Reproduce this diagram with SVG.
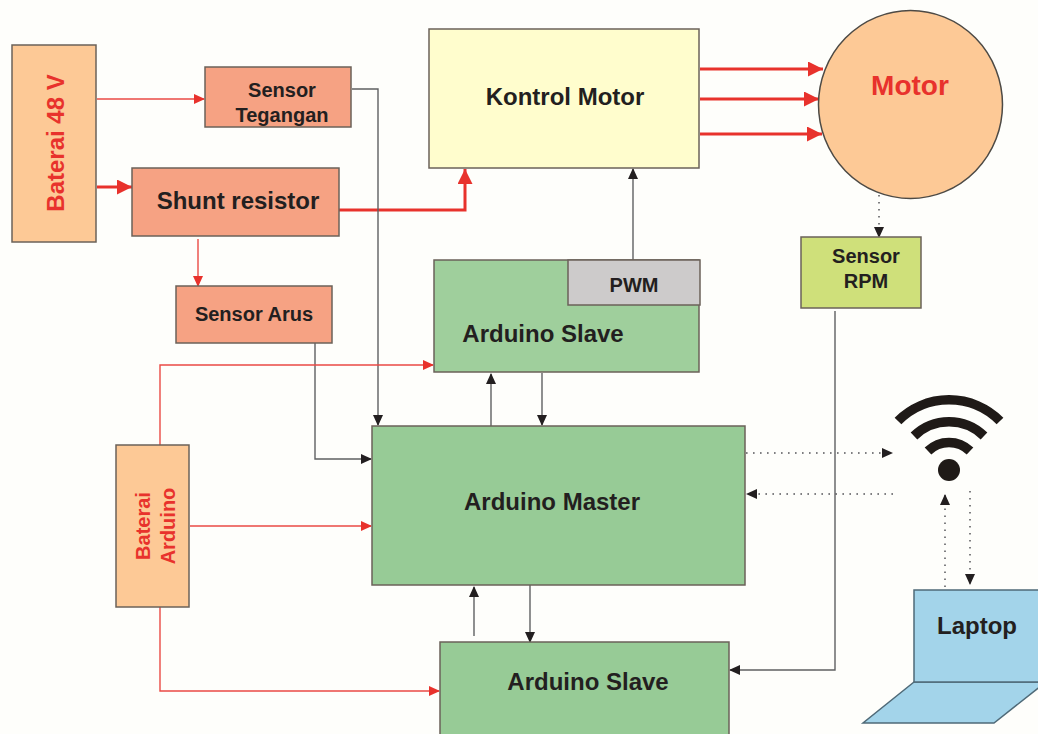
<svg xmlns="http://www.w3.org/2000/svg" width="1038" height="734" viewBox="0 0 1038 734">
<style>
.box{stroke:#6b6259;stroke-width:1.5}
.t{font-family:"Liberation Sans",Arial,sans-serif;font-weight:700;fill:#231f20;text-anchor:middle}
.r{fill:#e8322c}
.c{fill:none}
.k{stroke:#5f6062;stroke-width:1.4}
.red{stroke:#ea4a45;stroke-width:1.4}
.redb{stroke:#e8322c;stroke-width:3}
.d{stroke:#55565a;stroke-width:1.5;stroke-dasharray:1.6 5.4}
</style>
<defs>
<marker id="ak" markerUnits="userSpaceOnUse" markerWidth="12" markerHeight="12" refX="10" refY="5" orient="auto"><path d="M0 0L11 5L0 10Z" fill="#231f20"/></marker>
<marker id="ar" markerUnits="userSpaceOnUse" markerWidth="12" markerHeight="12" refX="10" refY="5" orient="auto"><path d="M0 0L11 5L0 10Z" fill="#e8322c"/></marker>
<marker id="arb" markerUnits="userSpaceOnUse" markerWidth="16" markerHeight="16" refX="15" refY="7.5" orient="auto"><path d="M0 0L15 7.500L0 15Z" fill="#e8322c"/></marker>
</defs>
<rect width="1038" height="734" fill="#fefefb"/>
<g id="connectors">
<path class="c red" d="M97 99H204" marker-end="url(#ar)"/>
<path class="c redb" d="M97 187H132" marker-end="url(#arb)"/>
<path class="c red" d="M198 239V286" marker-end="url(#ar)"/>
<path class="c redb" d="M339 210H465V169" marker-end="url(#arb)"/>
<path class="c redb" d="M700 69H823" marker-end="url(#arb)"/>
<path class="c redb" d="M700 99H819" marker-end="url(#arb)"/>
<path class="c redb" d="M700 134H822" marker-end="url(#arb)"/>
<path class="c k" d="M352 89H378V425" marker-end="url(#ak)"/>
<path class="c k" d="M315 343V459H371" marker-end="url(#ak)"/>
<path class="c k" d="M633 260V169" marker-end="url(#ak)"/>
<path class="c k" d="M491 426V374" marker-end="url(#ak)"/>
<path class="c k" d="M542 373V425" marker-end="url(#ak)"/>
<path class="c k" d="M474 636V587" marker-end="url(#ak)"/>
<path class="c k" d="M530 579V642" marker-end="url(#ak)"/>
<path class="c k" d="M835 311V670H730" marker-end="url(#ak)"/>
<path class="c red" d="M160 445V365H433" marker-end="url(#ar)"/>
<path class="c red" d="M190 526H371" marker-end="url(#ar)"/>
<path class="c red" d="M160 607V691H439" marker-end="url(#ar)"/>
<path class="c d" d="M746 453H892" marker-end="url(#ak)"/>
<path class="c d" d="M893 494H747" marker-end="url(#ak)"/>
<path class="c d" d="M945 587V495" marker-end="url(#ak)"/>
<path class="c d" d="M970 491V584" marker-end="url(#ak)"/>
<path class="c d" d="M879 195V237" marker-end="url(#ak)"/>
</g>
<g id="baterai48"><rect class="box" x="12" y="45" width="84" height="197" fill="#fdc996"/><text class="t r" font-size="24" transform="translate(64 143) rotate(-90)" style="fill:#e8322c">Baterai 48 V</text></g>
<g id="sensor-tegangan"><rect class="box" x="205" y="67" width="146" height="60" fill="#f6a283"/><text class="t" font-size="20" x="282" y="97">Sensor</text><text class="t" font-size="20" x="282" y="122">Tegangan</text></g>
<g id="shunt"><rect class="box" x="132" y="168" width="207" height="68" fill="#f6a283"/><text class="t" font-size="24" x="238" y="209">Shunt resistor</text></g>
<g id="sensor-arus"><rect class="box" x="176" y="286" width="156" height="57" fill="#f6a283"/><text class="t" font-size="20" x="254" y="321">Sensor Arus</text></g>
<g id="kontrol"><rect class="box" x="429" y="29" width="270" height="139" fill="#fffdcd"/><text class="t" font-size="24" x="565" y="105">Kontrol Motor</text></g>
<g id="motor"><ellipse class="box" cx="910.500" cy="104.500" rx="92" ry="94" fill="#fdc996" style="stroke:#4d4a45"/><text class="t" font-size="28" x="910" y="95" style="fill:#e8322c">Motor</text></g>
<g id="sensor-rpm"><rect class="box" x="801" y="237" width="120" height="71" fill="#cfe07a"/><text class="t" font-size="20" x="866" y="263">Sensor</text><text class="t" font-size="20" x="866" y="288">RPM</text></g>
<g id="slave-top"><rect class="box" x="434" y="260" width="265" height="112" fill="#9fcf9c"/><text class="t" font-size="24" x="543" y="342">Arduino Slave</text></g>
<g id="pwm"><rect class="box" x="568" y="260" width="132" height="45" fill="#cdcbcb"/><text class="t" font-size="20" x="634" y="292">PWM</text></g>
<g id="master"><rect class="box" x="372" y="426" width="373" height="159" fill="#97cb96"/><text class="t" font-size="24" x="552" y="510">Arduino Master</text></g>
<g id="baterai-arduino"><rect class="box" x="116" y="445" width="73" height="162" fill="#fdc996"/><text class="t" font-size="20" transform="translate(150 526) rotate(-90)" style="fill:#e8322c"><tspan x="0" y="0">Baterai</tspan><tspan x="0" y="25">Arduino</tspan></text></g>
<g id="slave-bottom"><rect class="box" x="440" y="642" width="289" height="100" fill="#97cb96"/><text class="t" font-size="24" x="588" y="690">Arduino Slave</text></g>
<g id="laptop"><path class="box" d="M914 682L863 723H994L1046 682Z" fill="#a3d4ea" style="stroke:#4f6a78"/><rect class="box" x="914" y="590" width="130" height="92" fill="#a3d4ea" style="stroke:#4f6a78"/><text class="t" font-size="24" x="977" y="634">Laptop</text></g>
<g id="wifi" fill="none" stroke="#1f1a17" stroke-width="9.500"><path d="M898 421A72 72 0 0 1 1000 421"/><path d="M914 436A50 50 0 0 1 984 436"/><path d="M928 451A30 30 0 0 1 970 451"/><circle cx="949" cy="470" r="11" fill="#1f1a17" stroke="none"/></g>
</svg>
